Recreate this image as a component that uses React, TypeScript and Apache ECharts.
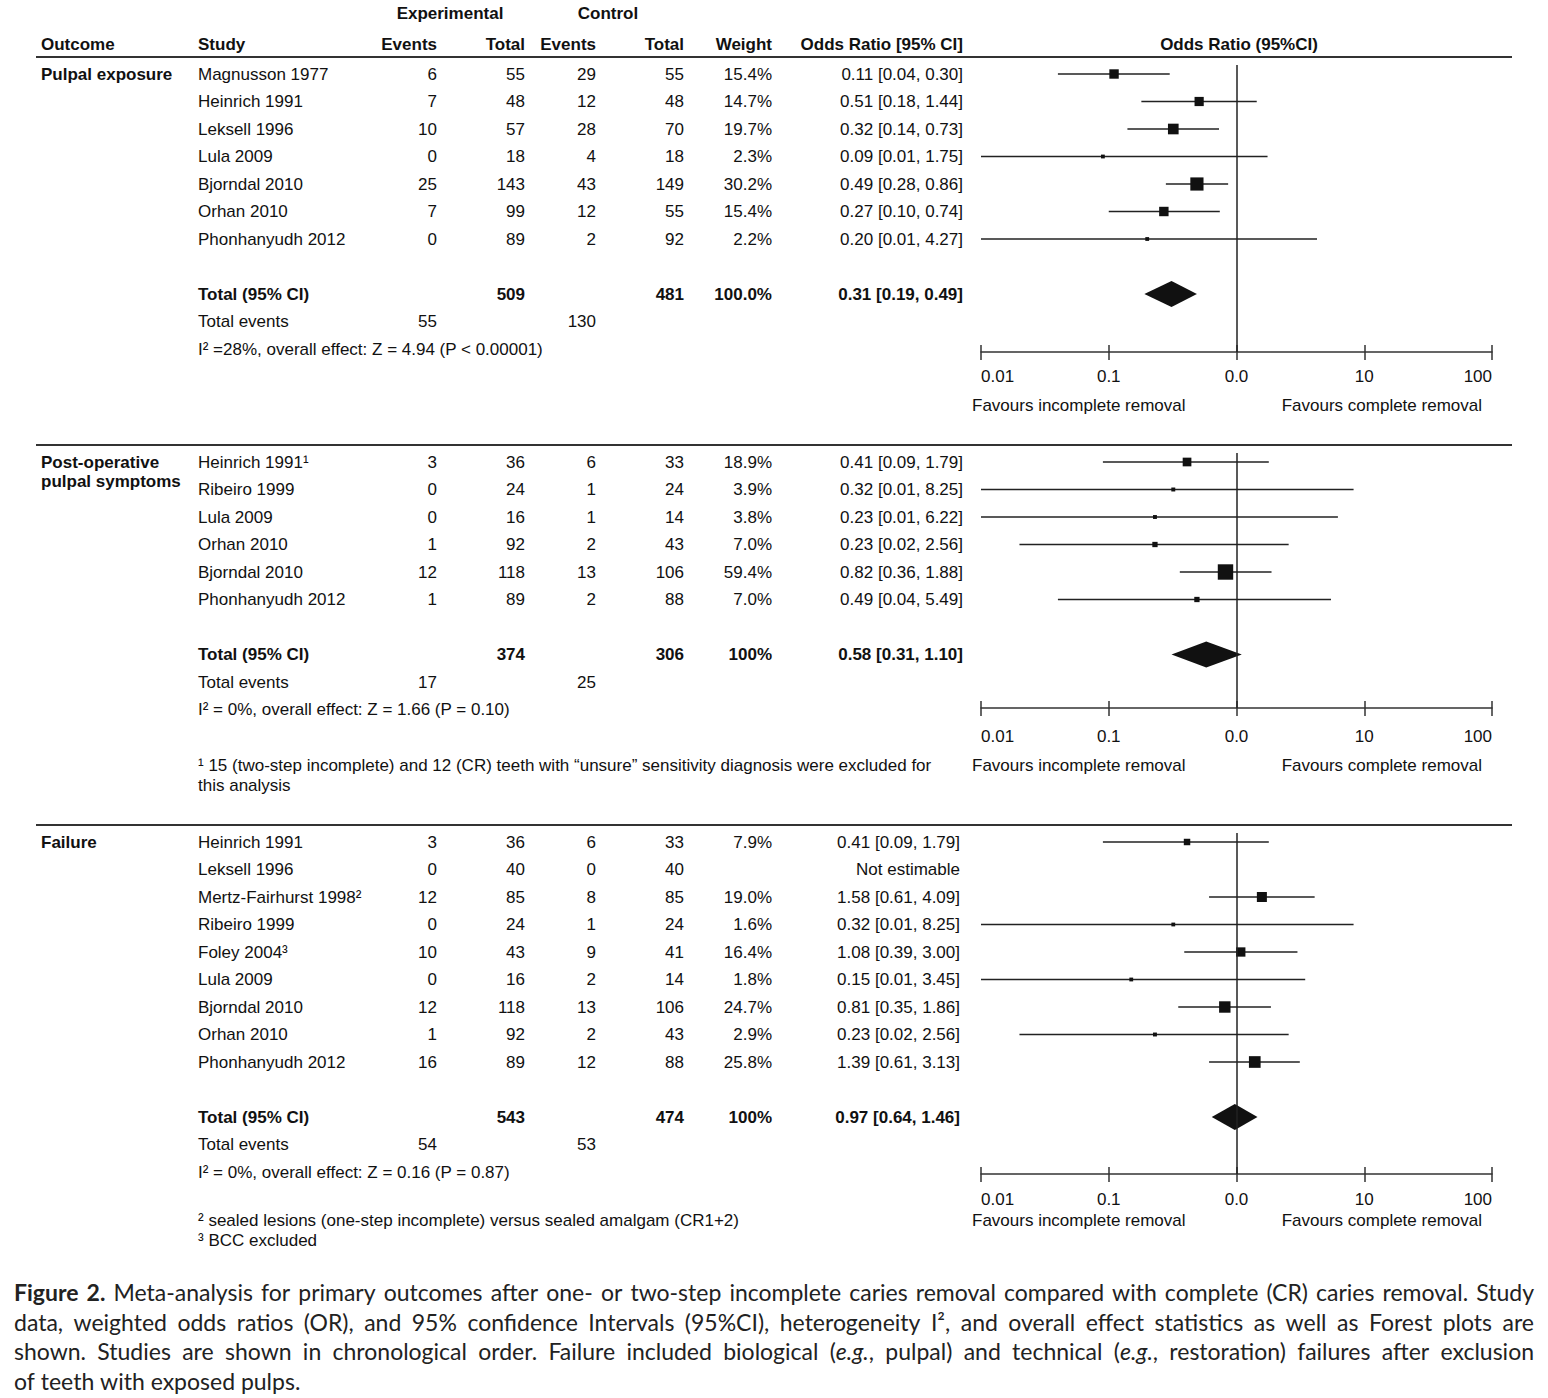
import React, { useEffect, useRef } from 'react';
import * as echarts from 'echarts';

const TABLE_FONT = '"Liberation Sans", Arial, Helvetica, sans-serif';
const CAPTION_FONT = 'Lato, "Noto Sans", sans-serif';

// ---------- headers ----------
const groupHeaders = ['Experimental', 'Control'];
const columnHeaders = ['Outcome', 'Study', 'Events', 'Total', 'Events', 'Total', 'Weight', 'Odds Ratio [95% CI]'];
const plotHeader = 'Odds Ratio (95%CI)';
const axisTickLabels = ['0.01', '0.1', '0.0', '10', '100'];
const favoursLabels = ['Favours incomplete removal', 'Favours complete removal'];

// ---------- panel 1: pulpal exposure ----------
const p1Outcome = ['Pulpal exposure'];
const p1Studies = ['Magnusson 1977', 'Heinrich 1991', 'Leksell 1996', 'Lula 2009', 'Bjorndal 2010', 'Orhan 2010', 'Phonhanyudh 2012'];
const p1ExpEvents = [6, 7, 10, 0, 25, 7, 0];
const p1ExpTotal = [55, 48, 57, 18, 143, 99, 89];
const p1CtrlEvents = [29, 12, 28, 4, 43, 12, 2];
const p1CtrlTotal = [55, 48, 70, 18, 149, 55, 92];
const p1Weight = [15.4, 14.7, 19.7, 2.3, 30.2, 15.4, 2.2];
const p1OR = [0.11, 0.51, 0.32, 0.09, 0.49, 0.27, 0.2];
const p1Low = [0.04, 0.18, 0.14, 0.01, 0.28, 0.1, 0.01];
const p1High = [0.3, 1.44, 0.73, 1.75, 0.86, 0.74, 4.27];
const p1Summary = [0.31, 0.19, 0.49];
const p1Totals = ['509', '481', '100.0%'];
const p1TotalEvents = ['55', '130'];
const p1Heterogeneity = 'I² =28%, overall effect: Z = 4.94 (P < 0.00001)';
const p1Footnotes: string[] = [];

// ---------- panel 2: post-operative pulpal symptoms ----------
const p2Outcome = ['Post-operative', 'pulpal symptoms'];
const p2Studies = ['Heinrich 1991¹', 'Ribeiro 1999', 'Lula 2009', 'Orhan 2010', 'Bjorndal 2010', 'Phonhanyudh 2012'];
const p2ExpEvents = [3, 0, 0, 1, 12, 1];
const p2ExpTotal = [36, 24, 16, 92, 118, 89];
const p2CtrlEvents = [6, 1, 1, 2, 13, 2];
const p2CtrlTotal = [33, 24, 14, 43, 106, 88];
const p2Weight = [18.9, 3.9, 3.8, 7.0, 59.4, 7.0];
const p2OR = [0.41, 0.32, 0.23, 0.23, 0.82, 0.49];
const p2Low = [0.09, 0.01, 0.01, 0.02, 0.36, 0.04];
const p2High = [1.79, 8.25, 6.22, 2.56, 1.88, 5.49];
const p2Summary = [0.58, 0.31, 1.1];
const p2Totals = ['374', '306', '100%'];
const p2TotalEvents = ['17', '25'];
const p2Heterogeneity = 'I² = 0%, overall effect: Z = 1.66 (P = 0.10)';
const p2Footnotes = ['¹ 15 (two-step incomplete) and 12 (CR) teeth with “unsure” sensitivity diagnosis were excluded for', 'this analysis'];

// ---------- panel 3: failure ----------
const p3Outcome = ['Failure'];
const p3Studies = ['Heinrich 1991', 'Leksell 1996', 'Mertz-Fairhurst 1998²', 'Ribeiro 1999', 'Foley 2004³', 'Lula 2009', 'Bjorndal 2010', 'Orhan 2010', 'Phonhanyudh 2012'];
const p3ExpEvents = [3, 0, 12, 0, 10, 0, 12, 1, 16];
const p3ExpTotal = [36, 40, 85, 24, 43, 16, 118, 92, 89];
const p3CtrlEvents = [6, 0, 8, 1, 9, 2, 13, 2, 12];
const p3CtrlTotal = [33, 40, 85, 24, 41, 14, 106, 43, 88];
const p3Weight = [7.9, null, 19.0, 1.6, 16.4, 1.8, 24.7, 2.9, 25.8];
const p3OR = [0.41, null, 1.58, 0.32, 1.08, 0.15, 0.81, 0.23, 1.39];
const p3Low = [0.09, null, 0.61, 0.01, 0.39, 0.01, 0.35, 0.02, 0.61];
const p3High = [1.79, null, 4.09, 8.25, 3.0, 3.45, 1.86, 2.56, 3.13];
const p3Summary = [0.97, 0.64, 1.46];
const p3Totals = ['543', '474', '100%'];
const p3TotalEvents = ['54', '53'];
const p3Heterogeneity = 'I² = 0%, overall effect: Z = 0.16 (P = 0.87)';
const p3Footnotes = ['² sealed lesions (one-step incomplete) versus sealed amalgam (CR1+2)', '³ BCC excluded'];

// ---------- caption (*bold*, _italic_) ----------
const captionLines = [
  '*Figure 2.*  Meta-analysis for primary outcomes after one- or two-step incomplete caries removal compared with complete (CR) caries removal. Study',
  'data, weighted odds ratios (OR), and 95% confidence Intervals (95%CI), heterogeneity I², and overall effect statistics as well as Forest plots are',
  'shown. Studies are shown in chronological order. Failure included biological (_e.g._, pulpal) and technical (_e.g._, restoration) failures after exclusion',
  'of teeth with exposed pulps.',
];

// ---------- layout ----------
const PITCH = 27.5;
const COL = { outcome: 41, study: 198, expE: 437, expT: 525, ctrlE: 596, ctrlT: 684, weight: 772, or: 963 };
const PLOT_LEFT = 981;
const PLOT_RIGHT = 1492;
const LAYOUT = [
  { row0: 74, top: 65, axisY: 352, labelMargin: 16, favY: 405, sq: 2.4, orRight: 963, footY: 0, lineY: 57 },
  { row0: 462, top: 453, axisY: 708, labelMargin: 20, favY: 765, sq: 2.0, orRight: 963, footY: 765, lineY: 445 },
  { row0: 842, top: 833, axisY: 1174, labelMargin: 17, favY: 1220, sq: 2.3, orRight: 960, footY: 1220, lineY: 825 },
];

const PANELS = [
  { outcome: p1Outcome, studies: p1Studies, expE: p1ExpEvents, expT: p1ExpTotal, ctrlE: p1CtrlEvents, ctrlT: p1CtrlTotal, weight: p1Weight, or: p1OR, low: p1Low, high: p1High, summary: p1Summary, totals: p1Totals, totalEvents: p1TotalEvents, het: p1Heterogeneity, foot: p1Footnotes },
  { outcome: p2Outcome, studies: p2Studies, expE: p2ExpEvents, expT: p2ExpTotal, ctrlE: p2CtrlEvents, ctrlT: p2CtrlTotal, weight: p2Weight, or: p2OR, low: p2Low, high: p2High, summary: p2Summary, totals: p2Totals, totalEvents: p2TotalEvents, het: p2Heterogeneity, foot: p2Footnotes },
  { outcome: p3Outcome, studies: p3Studies, expE: p3ExpEvents, expT: p3ExpTotal, ctrlE: p3CtrlEvents, ctrlT: p3CtrlTotal, weight: p3Weight, or: p3OR, low: p3Low, high: p3High, summary: p3Summary, totals: p3Totals, totalEvents: p3TotalEvents, het: p3Heterogeneity, foot: p3Footnotes },
];

const TXT = '#111';

function txt(x: number, y: number, text: string, o: any = {}) {
  const align = o.align || 'left';
  return {
    type: 'text',
    x,
    y,
    silent: true,
    style: {
      text,
      fill: o.color || TXT,
      fontSize: o.size || 17,
      fontFamily: o.family || TABLE_FONT,
      fontWeight: o.bold ? 'bold' : 'normal',
      align,
      textAlign: align,
      verticalAlign: 'middle',
      textVerticalAlign: 'middle',
      rich: o.rich,
    },
  };
}

function hline(x1: number, x2: number, y: number, w: number) {
  return { type: 'line', silent: true, shape: { x1, y1: y, x2, y2: y }, style: { stroke: '#333', lineWidth: w } };
}

const fmt = (v: number) => v.toFixed(2);
const orText = (o: number | null, l: number | null, h: number | null) =>
  o == null ? 'Not estimable' : `${fmt(o)} [${fmt(l as number)}, ${fmt(h as number)}]`;

function buildCaption(): any[] {
  const size = 23;
  const canvas = document.createElement('canvas');
  const ctx = canvas.getContext('2d') as CanvasRenderingContext2D;
  const fontOf = (s: any) => `${s.i ? 'italic ' : ''}${s.b ? 'bold ' : ''}${size}px ${CAPTION_FONT}`;
  const X0 = 14;
  const W = 1534 - 14;
  const Y0 = 1292;
  const LH = 29.6;
  const out: any[] = [];
  captionLines.forEach((line, li) => {
    let b = false;
    let it = false;
    let buf = '';
    let cur: any[] = [];
    const words: any[][] = [];
    const flush = () => {
      if (buf) cur.push({ t: buf, b, i: it });
      buf = '';
    };
    for (const ch of line) {
      if (ch === '*') { flush(); b = !b; }
      else if (ch === '_') { flush(); it = !it; }
      else if (ch === ' ') { flush(); if (cur.length) words.push(cur); cur = []; }
      else buf += ch;
    }
    flush();
    if (cur.length) words.push(cur);
    const widths = words.map((segs) =>
      segs.reduce((acc: number, s: any) => { ctx.font = fontOf(s); return acc + ctx.measureText(s.t).width; }, 0));
    const sum = widths.reduce((a, c) => a + c, 0);
    ctx.font = fontOf({});
    const space = ctx.measureText(' ').width;
    const justify = li < captionLines.length - 1;
    let gap = justify ? (W - sum) / (words.length - 1) : space;
    if (gap < space * 0.5) gap = space * 0.5;
    let x = X0;
    words.forEach((segs, wi) => {
      const text = segs.map((s: any) => `{${s.b ? 'b' : s.i ? 'i' : 'n'}|${s.t}}`).join('');
      out.push(txt(x, Y0 + li * LH, text, {
        family: CAPTION_FONT,
        size,
        color: '#222',
        rich: {
          n: { fontFamily: CAPTION_FONT, fontSize: size, fill: '#222', fontWeight: 'normal' },
          b: { fontFamily: CAPTION_FONT, fontSize: size, fill: '#222', fontWeight: 'bold' },
          i: { fontFamily: CAPTION_FONT, fontSize: size, fill: '#222', fontStyle: 'italic' },
        },
      }));
      x += widths[wi] + gap;
    });
  });
  return out;
}

function buildOption() {
  const elements: any[] = [];
  // header
  elements.push(txt(450, 13, groupHeaders[0], { bold: true, align: 'center' }));
  elements.push(txt(608, 13, groupHeaders[1], { bold: true, align: 'center' }));
  const hy = 44;
  elements.push(txt(COL.outcome, hy, columnHeaders[0], { bold: true }));
  elements.push(txt(COL.study, hy, columnHeaders[1], { bold: true }));
  elements.push(txt(COL.expE, hy, columnHeaders[2], { bold: true, align: 'right' }));
  elements.push(txt(COL.expT, hy, columnHeaders[3], { bold: true, align: 'right' }));
  elements.push(txt(COL.ctrlE, hy, columnHeaders[4], { bold: true, align: 'right' }));
  elements.push(txt(COL.ctrlT, hy, columnHeaders[5], { bold: true, align: 'right' }));
  elements.push(txt(COL.weight, hy, columnHeaders[6], { bold: true, align: 'right' }));
  elements.push(txt(COL.or, hy, columnHeaders[7], { bold: true, align: 'right' }));
  elements.push(txt(1239, hy, plotHeader, { bold: true, align: 'center' }));

  PANELS.forEach((p, pi) => {
    const L = LAYOUT[pi];
    const yRow = (r: number) => L.row0 + r * PITCH;
    elements.push(hline(36, 1512, L.lineY, 2));
    p.outcome.forEach((o, oi) => elements.push(txt(COL.outcome, L.row0 + oi * 19, o, { bold: true })));
    p.studies.forEach((s, i) => {
      const y = yRow(i);
      elements.push(txt(COL.study, y, s));
      elements.push(txt(COL.expE, y, String(p.expE[i]), { align: 'right' }));
      elements.push(txt(COL.expT, y, String(p.expT[i]), { align: 'right' }));
      elements.push(txt(COL.ctrlE, y, String(p.ctrlE[i]), { align: 'right' }));
      elements.push(txt(COL.ctrlT, y, String(p.ctrlT[i]), { align: 'right' }));
      const w = p.weight[i];
      if (w != null) elements.push(txt(COL.weight, y, `${w.toFixed(1)}%`, { align: 'right' }));
      elements.push(txt(L.orRight, y, orText(p.or[i], p.low[i], p.high[i]), { align: 'right' }));
    });
    const n = p.studies.length;
    const ty = yRow(n + 1);
    elements.push(txt(COL.study, ty, 'Total (95% CI)', { bold: true }));
    elements.push(txt(COL.expT, ty, p.totals[0], { bold: true, align: 'right' }));
    elements.push(txt(COL.ctrlT, ty, p.totals[1], { bold: true, align: 'right' }));
    elements.push(txt(COL.weight, ty, p.totals[2], { bold: true, align: 'right' }));
    elements.push(txt(L.orRight, ty, orText(p.summary[0], p.summary[1], p.summary[2]), { bold: true, align: 'right' }));
    const ey = yRow(n + 2);
    elements.push(txt(COL.study, ey, 'Total events'));
    elements.push(txt(COL.expE, ey, p.totalEvents[0], { align: 'right' }));
    elements.push(txt(COL.ctrlE, ey, p.totalEvents[1], { align: 'right' }));
    elements.push(txt(COL.study, yRow(n + 3), p.het));
    p.foot.forEach((f, fi) => elements.push(txt(COL.study, L.footY + fi * 20, f)));
    elements.push(txt(972, L.favY, favoursLabels[0]));
    elements.push(txt(1482, L.favY, favoursLabels[1], { align: 'right' }));
  });

  elements.push(...buildCaption());

  const grids: any[] = [];
  const xAxes: any[] = [];
  const yAxes: any[] = [];
  const series: any[] = [];
  PANELS.forEach((p, pi) => {
    const L = LAYOUT[pi];
    grids.push({ left: PLOT_LEFT, width: PLOT_RIGHT - PLOT_LEFT, top: L.top, height: L.axisY - L.top, containLabel: false });
    const baseX = {
      type: 'log', logBase: 10, min: 0.01, max: 100, gridIndex: pi, position: 'bottom',
      splitLine: { show: false },
    };
    xAxes.push({
      ...baseX,
      axisLine: { show: true, onZero: false, lineStyle: { color: '#333', width: 1.5 } },
      axisTick: { show: true, inside: false, length: 8, lineStyle: { color: '#333', width: 1.5 } },
      axisLabel: {
        show: true, margin: L.labelMargin, fontSize: 17, color: TXT, fontFamily: TABLE_FONT,
        showMinLabel: true, showMaxLabel: true, alignMinLabel: 'left', alignMaxLabel: 'right',
        formatter: (v: number) => axisTickLabels[Math.round(Math.log10(v)) + 2] ?? '',
      },
    });
    xAxes.push({
      ...baseX,
      axisLine: { show: false, onZero: false },
      axisTick: { show: true, inside: true, length: 7, lineStyle: { color: '#333', width: 1.5 } },
      axisLabel: { show: false },
    });
    yAxes.push({
      type: 'value', gridIndex: pi, inverse: true, show: false,
      min: (L.top - L.row0) / PITCH, max: (L.axisY - L.row0) / PITCH,
    });
    const data: any[] = [];
    p.or.forEach((o, i) => {
      if (o == null) return;
      data.push([o, p.low[i], p.high[i], p.weight[i], i]);
    });
    const sq = L.sq;
    series.push({
      type: 'custom', coordinateSystem: 'cartesian2d', xAxisIndex: pi * 2, yAxisIndex: pi,
      silent: true, clip: false, data, encode: { x: [0, 1, 2], y: 4 },
      renderItem: (params: any, api: any) => {
        const row = api.value(4);
        const c = api.coord([api.value(0), row]);
        const l = api.coord([api.value(1), row]);
        const h = api.coord([api.value(2), row]);
        const s = Math.max(3.8, sq * Math.sqrt(api.value(3)));
        return {
          type: 'group',
          children: [
            { type: 'line', shape: { x1: l[0], y1: l[1], x2: h[0], y2: h[1] }, style: { stroke: '#222', lineWidth: 1.5 } },
            { type: 'rect', shape: { x: c[0] - s / 2, y: c[1] - s / 2, width: s, height: s }, style: { fill: '#111' } },
          ],
        };
      },
    });
    series.push({
      type: 'custom', coordinateSystem: 'cartesian2d', xAxisIndex: pi * 2, yAxisIndex: pi,
      silent: true, clip: false,
      data: [[p.summary[0], p.summary[1], p.summary[2], p.studies.length + 1]],
      encode: { x: [0, 1, 2], y: 3 },
      renderItem: (params: any, api: any) => {
        const row = api.value(3);
        const c = api.coord([api.value(0), row]);
        const l = api.coord([api.value(1), row]);
        const h = api.coord([api.value(2), row]);
        const hh = 13;
        return {
          type: 'polygon',
          shape: { points: [[l[0], c[1]], [c[0], c[1] - hh], [h[0], c[1]], [c[0], c[1] + hh]] },
          style: { fill: '#111' },
        };
      },
      markLine: {
        silent: true, symbol: 'none', label: { show: false },
        lineStyle: { color: '#222', width: 1.5, type: 'solid' },
        data: [{ xAxis: 1 }],
      },
    });
  });

  return {
    animation: false,
    backgroundColor: '#fff',
    grid: grids,
    xAxis: xAxes,
    yAxis: yAxes,
    series,
    graphic: { elements },
  };
}

export default function App() {
  const ref = useRef<HTMLDivElement>(null);
  useEffect(() => {
    document.body.style.margin = '0';
    const chart = echarts.init(ref.current as HTMLDivElement, null, { renderer: 'svg' });
    chart.setOption(buildOption() as any);
    return () => chart.dispose();
  }, []);
  return <div ref={ref} style={{ width: 1548, height: 1398, background: '#fff' }} />;
}
